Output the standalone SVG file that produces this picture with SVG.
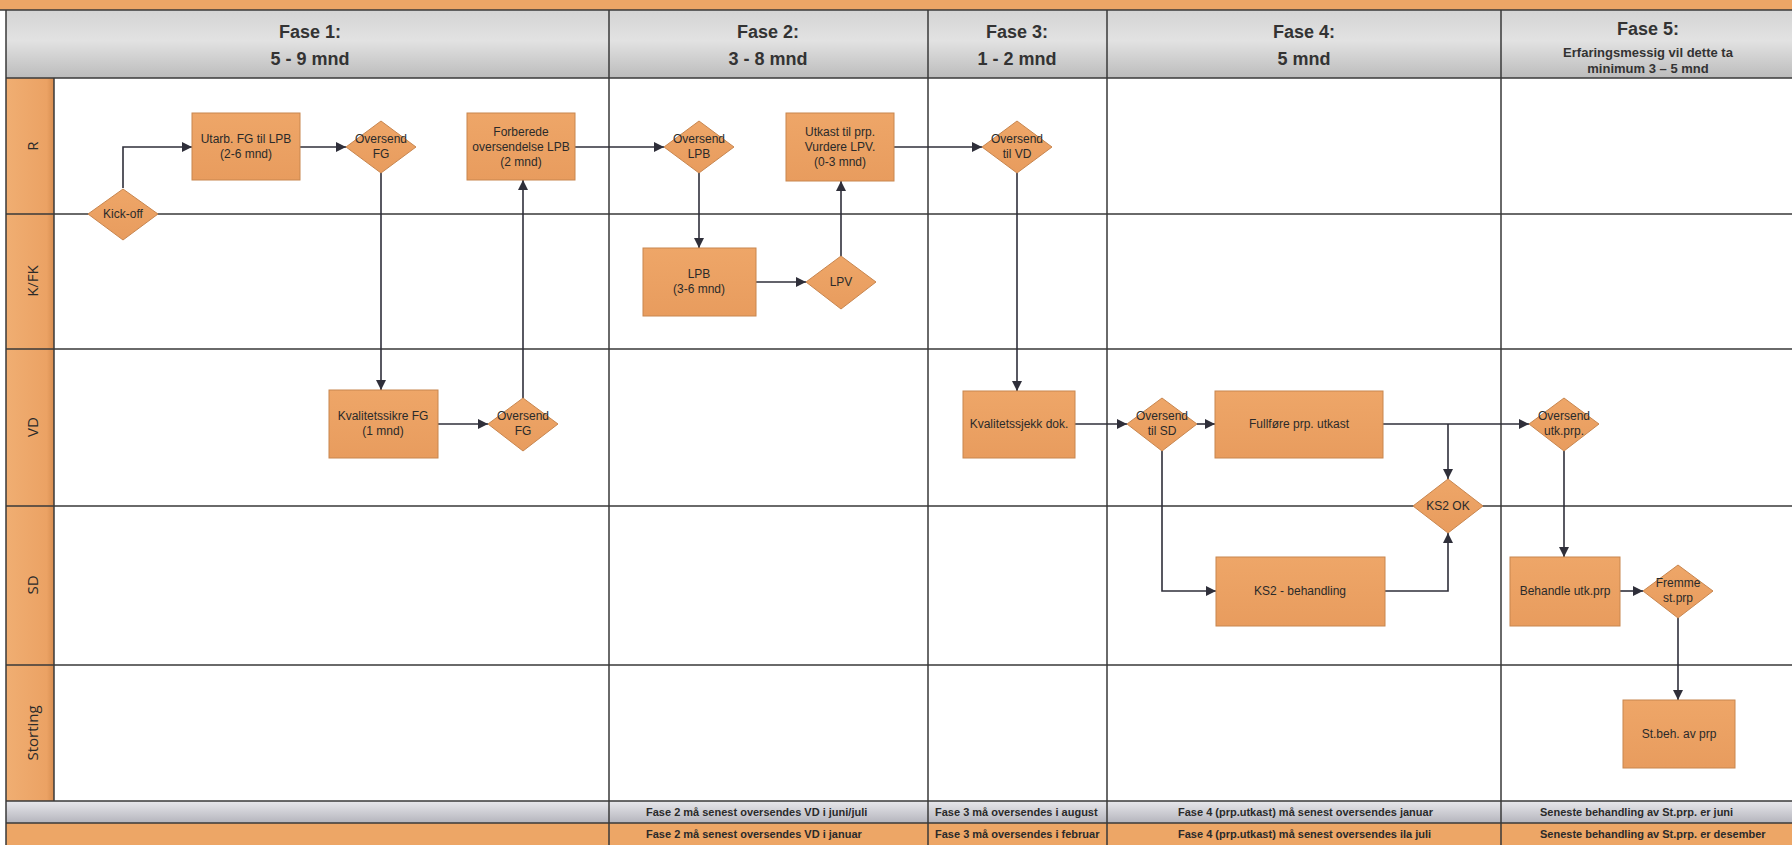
<svg xmlns="http://www.w3.org/2000/svg" width="1792" height="845" viewBox="0 0 1792 845">
<defs>
<linearGradient id="hdr" x1="0" y1="0" x2="0" y2="1">
<stop offset="0" stop-color="#d4d4d4"/><stop offset="0.45" stop-color="#e2e2e2"/><stop offset="1" stop-color="#bcbcbc"/>
</linearGradient>
<linearGradient id="ftr" x1="0" y1="0" x2="0" y2="1">
<stop offset="0" stop-color="#e8e8ec"/><stop offset="1" stop-color="#b4b4bc"/>
</linearGradient>
<linearGradient id="lane" x1="0" y1="0" x2="1" y2="0">
<stop offset="0" stop-color="#f0ae72"/><stop offset="0.85" stop-color="#eba264"/><stop offset="1" stop-color="#d78d50"/>
</linearGradient>
<linearGradient id="nd" x1="0" y1="0" x2="0" y2="1">
<stop offset="0" stop-color="#eea668"/><stop offset="1" stop-color="#e89c5e"/>
</linearGradient>
<marker id="arr" viewBox="0 0 10 10" refX="10" refY="5" markerWidth="10" markerHeight="10" markerUnits="userSpaceOnUse" orient="auto">
<path d="M0,0 L10,5 L0,10 z" fill="#2f2f3a"/>
</marker>
</defs>
<style>
.box{fill:url(#nd);stroke:#c8864f;stroke-width:1}
.t{font-family:"Liberation Sans",Arial,sans-serif;font-size:12px;fill:#2a2a2a;text-anchor:middle}
.hd{font-family:"Liberation Sans",Arial,sans-serif;font-size:18px;font-weight:bold;fill:#333;text-anchor:middle}
.hs{font-family:"Liberation Sans",Arial,sans-serif;font-size:13px;font-weight:bold;fill:#333;text-anchor:middle}
.ft{font-family:"Liberation Sans",Arial,sans-serif;font-size:11px;font-weight:bold;fill:#2a2a2a}
.lb{font-family:"Open Sans","Liberation Sans",sans-serif;font-size:15px;fill:#2a2a2a;text-anchor:middle}
.g{stroke:#3a3a3a;stroke-width:1.5;fill:none}
.cn{stroke:#2f2f3a;stroke-width:1.6;fill:none;marker-end:url(#arr)}
</style>
<rect x="0" y="0" width="1792" height="845" fill="#ffffff"/>
<g id="frame">
<rect x="0" y="0" width="1792" height="10" fill="#eda666"/>
<rect x="6" y="10" width="1786" height="68" fill="url(#hdr)"/>
<rect x="6" y="78" width="48" height="723" fill="url(#lane)"/>
<rect x="6" y="801" width="1786" height="22" fill="url(#ftr)"/>
<rect x="6" y="823" width="1786" height="22" fill="#eda666"/>
<path class="g" d="M0,10H1792 M6,78H1792 M6,214H1792 M6,349H1792 M6,506H1792 M6,665H1792 M6,801H1792 M6,823H1792"/>
<path class="g" d="M6,10V845 M54,78V801 M609,10V845 M928,10V845 M1107,10V845 M1501,10V845"/>
</g>
<g id="headers">
<text class="hd" x="310" y="38">Fase 1:</text>
<text class="hd" x="310" y="65">5 - 9 mnd</text>
<text class="hd" x="768" y="38">Fase 2:</text>
<text class="hd" x="768" y="65">3 - 8 mnd</text>
<text class="hd" x="1017" y="38">Fase 3:</text>
<text class="hd" x="1017" y="65">1 - 2 mnd</text>
<text class="hd" x="1304" y="38">Fase 4:</text>
<text class="hd" x="1304" y="65">5 mnd</text>
<text class="hd" x="1648" y="35">Fase 5:</text>
<text class="hs" x="1648" y="57">Erfaringsmessig vil dette ta</text>
<text class="hs" x="1648" y="73">minimum 3 – 5 mnd</text>
</g>
<g id="lanes">
<text class="lb" transform="translate(38,146) rotate(-90)">R</text>
<text class="lb" transform="translate(38,281) rotate(-90)">K/FK</text>
<text class="lb" transform="translate(38,427) rotate(-90)">VD</text>
<text class="lb" transform="translate(38,585) rotate(-90)">SD</text>
<text class="lb" transform="translate(38,733) rotate(-90)">Storting</text>
</g>
<g id="footer">
<text class="ft" x="646" y="816">Fase 2 må senest oversendes VD i juni/juli</text>
<text class="ft" x="646" y="838">Fase 2 må senest oversendes VD i januar</text>
<text class="ft" x="935" y="816">Fase 3 må oversendes i august</text>
<text class="ft" x="935" y="838">Fase 3 må oversendes i februar</text>
<text class="ft" x="1178" y="816">Fase 4 (prp.utkast) må senest oversendes januar</text>
<text class="ft" x="1178" y="838">Fase 4 (prp.utkast) må senest oversendes ila juli</text>
<text class="ft" x="1540" y="816">Seneste behandling av St.prp. er juni</text>
<text class="ft" x="1540" y="838">Seneste behandling av St.prp. er desember</text>
</g>
<g id="connectors">
<path class="cn" d="M123,188V147H192"/>
<path class="cn" d="M300,147H346"/>
<path class="cn" d="M381,173V390"/>
<path class="cn" d="M438,424H488"/>
<path class="cn" d="M523,398V180"/>
<path class="cn" d="M575,147H664"/>
<path class="cn" d="M699,173V248"/>
<path class="cn" d="M756,282H806"/>
<path class="cn" d="M841,256V181"/>
<path class="cn" d="M894,147H982"/>
<path class="cn" d="M1017,173V391"/>
<path class="cn" d="M1075,424H1127"/>
<path class="cn" d="M1197,424H1215"/>
<path class="cn" d="M1383,424H1529"/>
<path class="cn" d="M1448,424V479"/>
<path class="cn" d="M1162,451V591H1216"/>
<path class="cn" d="M1385,591H1448V533"/>
<path class="cn" d="M1564,451V557"/>
<path class="cn" d="M1620,591H1643"/>
<path class="cn" d="M1678,618V700"/>
</g>
<g id="kickoff"><path class="box" d="M123,189 L158,214 L123,240 L88,214 Z"/><text class="t" x="123" y="218">Kick-off</text></g>
<g id="utarb"><rect class="box" x="192" y="113" width="108" height="67"/><text class="t" x="246" y="143">Utarb. FG til LPB</text><text class="t" x="246" y="158">(2-6 mnd)</text></g>
<g id="oversendFG1"><path class="box" d="M381,121 L416,147 L381,173 L346,147 Z"/><text class="t" x="381" y="143">Oversend</text><text class="t" x="381" y="158">FG</text></g>
<g id="forberede"><rect class="box" x="467" y="113" width="108" height="67"/><text class="t" x="521" y="136">Forberede</text><text class="t" x="521" y="151">oversendelse LPB</text><text class="t" x="521" y="166">(2 mnd)</text></g>
<g id="oversendLPB"><path class="box" d="M699,121 L734,147 L699,173 L664,147 Z"/><text class="t" x="699" y="143">Oversend</text><text class="t" x="699" y="158">LPB</text></g>
<g id="utkast"><rect class="box" x="786" y="113" width="108" height="68"/><text class="t" x="840" y="136">Utkast til prp.</text><text class="t" x="840" y="151">Vurdere LPV.</text><text class="t" x="840" y="166">(0-3 mnd)</text></g>
<g id="oversendVD"><path class="box" d="M1017,121 L1052,147 L1017,173 L982,147 Z"/><text class="t" x="1017" y="143">Oversend</text><text class="t" x="1017" y="158">til VD</text></g>
<g id="lpb"><rect class="box" x="643" y="248" width="113" height="68"/><text class="t" x="699" y="278">LPB</text><text class="t" x="699" y="293">(3-6 mnd)</text></g>
<g id="lpv"><path class="box" d="M841,256 L876,282 L841,309 L806,282 Z"/><text class="t" x="841" y="286">LPV</text></g>
<g id="kvalitetssikre"><rect class="box" x="329" y="390" width="109" height="68"/><text class="t" x="383" y="420">Kvalitetssikre FG</text><text class="t" x="383" y="435">(1 mnd)</text></g>
<g id="oversendFG2"><path class="box" d="M523,398 L558,424 L523,451 L488,424 Z"/><text class="t" x="523" y="420">Oversend</text><text class="t" x="523" y="435">FG</text></g>
<g id="kvalitetssjekk"><rect class="box" x="963" y="391" width="112" height="67"/><text class="t" x="1019" y="428">Kvalitetssjekk dok.</text></g>
<g id="oversendSD"><path class="box" d="M1162,398 L1197,424 L1162,451 L1127,424 Z"/><text class="t" x="1162" y="420">Oversend</text><text class="t" x="1162" y="435">til SD</text></g>
<g id="fullfore"><rect class="box" x="1215" y="391" width="168" height="67"/><text class="t" x="1299" y="428">Fullføre prp. utkast</text></g>
<g id="oversendUtk"><path class="box" d="M1564,398 L1599,424 L1564,451 L1529,424 Z"/><text class="t" x="1564" y="420">Oversend</text><text class="t" x="1564" y="435">utk.prp.</text></g>
<g id="ks2ok"><path class="box" d="M1448,479 L1483,506 L1448,533 L1413,506 Z"/><text class="t" x="1448" y="510">KS2 OK</text></g>
<g id="ks2beh"><rect class="box" x="1216" y="557" width="169" height="69"/><text class="t" x="1300" y="595">KS2 - behandling</text></g>
<g id="behandle"><rect class="box" x="1510" y="557" width="110" height="69"/><text class="t" x="1565" y="595">Behandle utk.prp</text></g>
<g id="fremme"><path class="box" d="M1678,565 L1713,591 L1678,618 L1643,591 Z"/><text class="t" x="1678" y="587">Fremme</text><text class="t" x="1678" y="602">st.prp</text></g>
<g id="stbeh"><rect class="box" x="1623" y="700" width="112" height="68"/><text class="t" x="1679" y="738">St.beh. av prp</text></g>
</svg>
